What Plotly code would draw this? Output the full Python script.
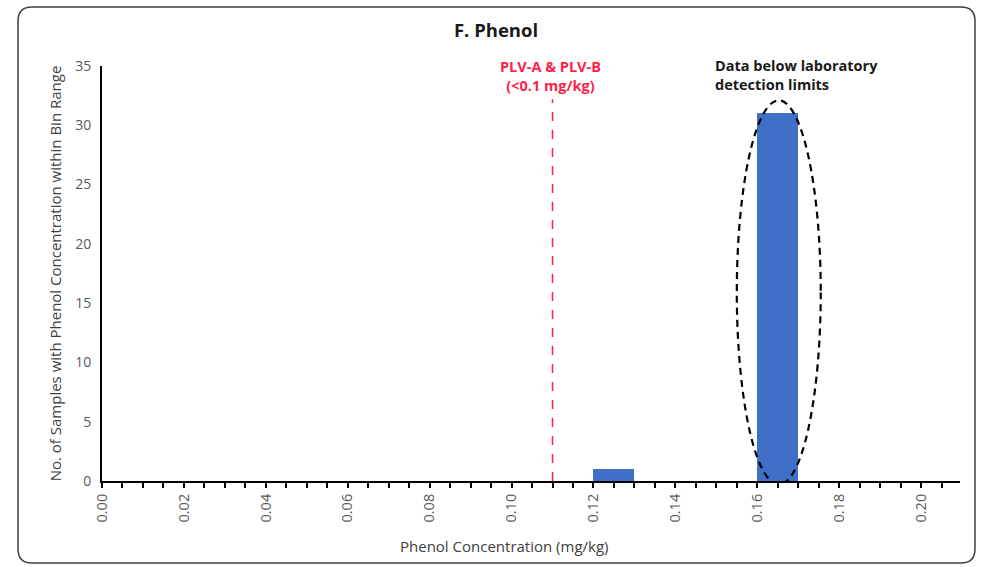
import plotly.graph_objects as go

bin_centers = [0.125, 0.165]
counts = [1, 31]
bin_width = 0.01
plv_value = 0.11
x_ticks = [0.00, 0.02, 0.04, 0.06, 0.08, 0.10, 0.12, 0.14, 0.16, 0.18, 0.20]
y_ticks = [0, 5, 10, 15, 20, 25, 30, 35]

W, H = 982, 567
ml, mr, mt, mb = 102, 22, 66, 86
pw, ph = W - ml - mr, H - mt - mb

def px(x):
    return (x - ml) / pw

def py(y):
    return (H - mb - y) / ph

font = "Open Sans, Liberation Sans, sans-serif"

fig = go.Figure()
fig.add_trace(go.Bar(x=bin_centers, y=counts, width=[bin_width] * len(counts),
                     marker=dict(color="#3F6FC6", line=dict(width=0)), showlegend=False))

# rounded frame
x0, x1, y0, y1, r = 18, 975, 7, 563, 14
path = (f"M {px(x0+r)} {py(y0)} L {px(x1-r)} {py(y0)} "
        f"Q {px(x1)} {py(y0)} {px(x1)} {py(y0+r)} "
        f"L {px(x1)} {py(y1-r)} Q {px(x1)} {py(y1)} {px(x1-r)} {py(y1)} "
        f"L {px(x0+r)} {py(y1)} Q {px(x0)} {py(y1)} {px(x0)} {py(y1-r)} "
        f"L {px(x0)} {py(y0+r)} Q {px(x0)} {py(y0)} {px(x0+r)} {py(y0)} Z")
fig.add_shape(type="path", path=path, xref="paper", yref="paper",
              line=dict(color="#404040", width=1.5), layer="below")

fig.add_shape(type="line", x0=plv_value, x1=plv_value, y0=0, y1=32.2,
              xref="x", yref="y", line=dict(color="#FF1F4B", width=1.5, dash="dash"))
fig.add_shape(type="circle", x0=0.1550, x1=0.1755, y0=-0.3, y1=32.1,
              xref="x", yref="y", line=dict(color="black", width=2.2, dash="7px,5px"))

fig.add_annotation(x=0.1095, y=py(76), xref="x", yref="paper",
                   text="<b>PLV-A & PLV-B<br>(<0.1 mg/kg)</b>", showarrow=False,
                   font=dict(color="#FF1F4B", size=14.5, family=font), align="center",
                   yanchor="middle")
fig.add_annotation(x=0.1695, y=py(75), xref="x", yref="paper",
                   text="<b>Data below laboratory<br>detection limits</b>", showarrow=False,
                   font=dict(color="#1a1a1a", size=14.5, family=font), align="left",
                   yanchor="middle")
fig.add_annotation(x=px(504), y=py(546), xref="paper", yref="paper",
                   text="Phenol Concentration (mg/kg)", showarrow=False,
                   font=dict(color="#404040", size=15, family=font),
                   xanchor="center", yanchor="middle")

fig.update_layout(
    width=W, height=H,
    margin=dict(l=ml, r=mr, t=mt, b=mb),
    paper_bgcolor="white", plot_bgcolor="white",
    title=dict(text="<b>F. Phenol</b>", x=496 / W, xanchor="center", y=1 - 31 / H,
               yanchor="middle", font=dict(size=18.5, color="#1a1a1a", family=font)),
    font=dict(family=font, color="#595959"),
    bargap=0,
)
fig.update_xaxes(range=[0, 0.2095], tickvals=x_ticks, ticktext=[f"{v:.2f}" for v in x_ticks],
                 tickangle=-90, showgrid=False, zeroline=False,
                 showline=True, linecolor="black", linewidth=2,
                 ticks="outside", ticklen=5, tickwidth=1.5, tickcolor="black",
                 minor=dict(dtick=0.005, tick0=0, ticks="outside", ticklen=5, tickwidth=1.5, tickcolor="black"),
                 tickfont=dict(size=14.5, color="#595959"))
fig.update_yaxes(range=[0, 35], tickvals=y_ticks, showgrid=False, zeroline=False,
                 showline=True, linecolor="black", linewidth=2, ticks="",
                 tickfont=dict(size=14, color="#595959"), ticklabelstandoff=6,
                 title=dict(text="No. of Samples with Phenol Concentration within Bin Range",
                            font=dict(size=15, color="#404040"), standoff=10))

fig.write_html("out.html")
